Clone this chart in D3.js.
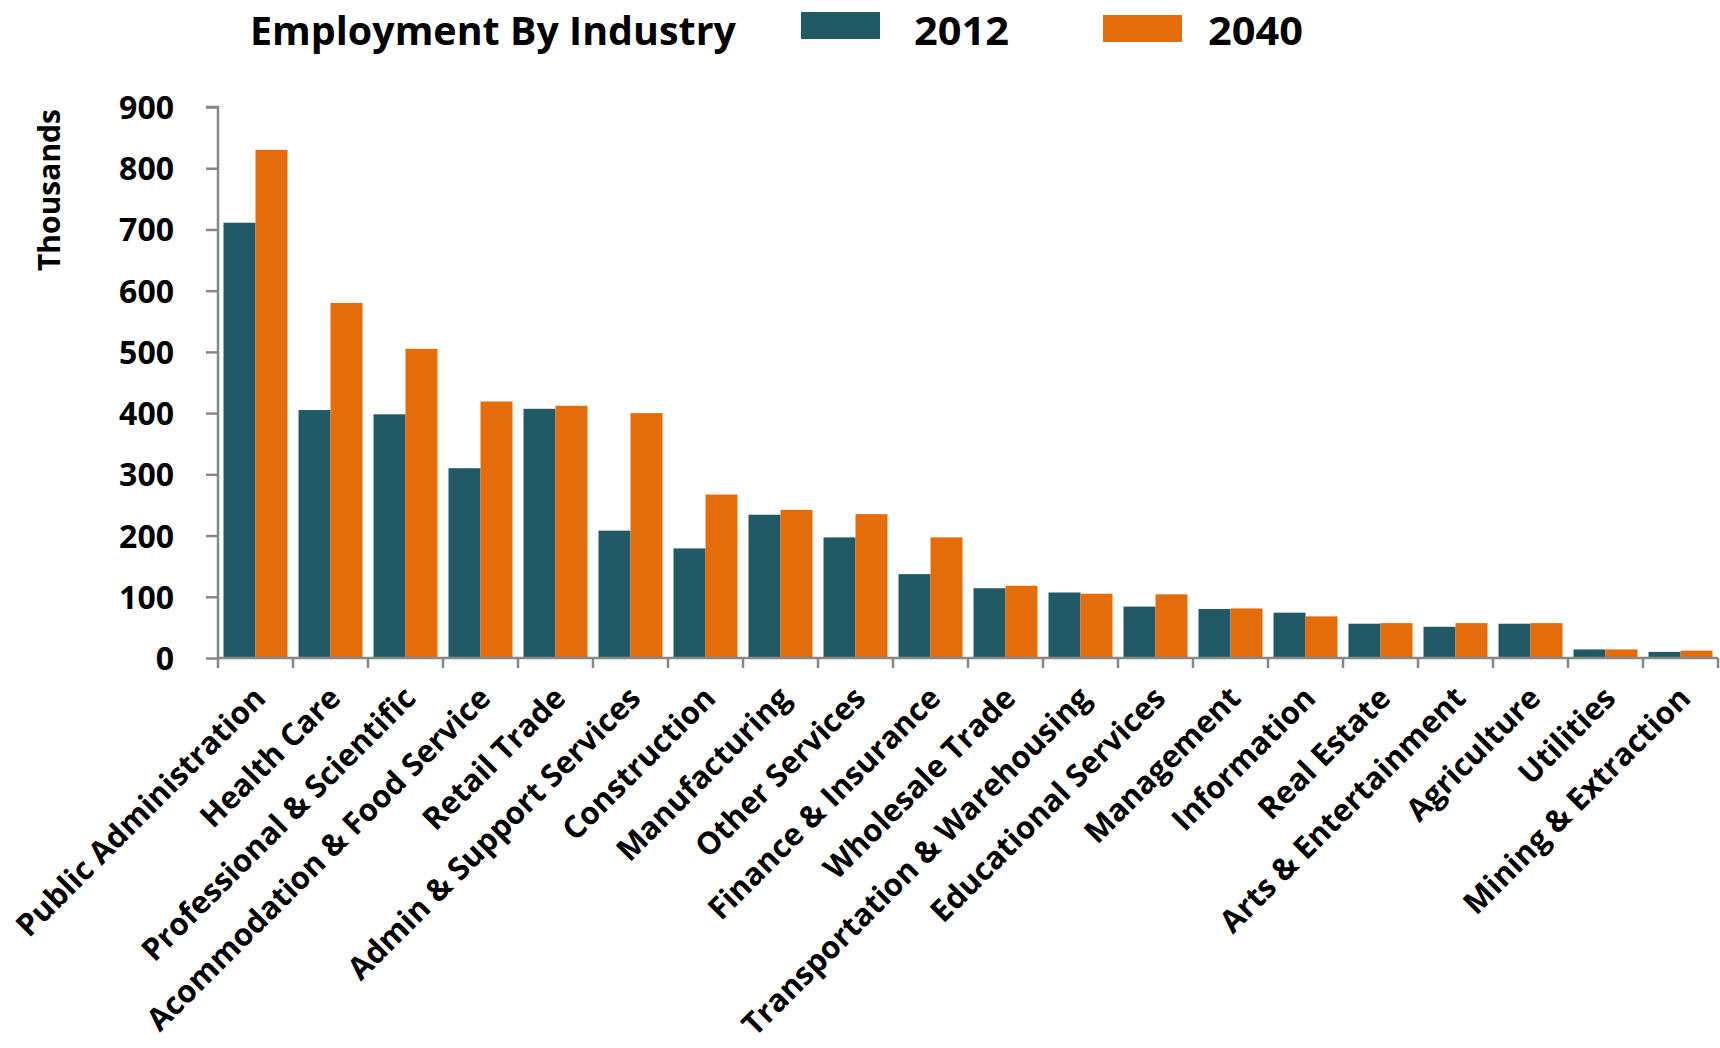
<!DOCTYPE html>
<html><head><meta charset="utf-8">
<script src="https://cdn.jsdelivr.net/npm/d3@7"></script>
<style>
body{margin:0;background:#fff}
svg text{font-family:"Open Sans",sans-serif;font-weight:700;fill:#000}
</style>
</head><body>
<svg id="chart" width="1720" height="1048"></svg>
<script>
const categories = ["Public Administration","Health Care","Professional & Scientific","Acommodation & Food Service","Retail Trade","Admin & Support Services","Construction","Manufacturing","Other Services","Finance & Insurance","Wholesale Trade","Transportation & Warehousing","Educational Services","Management","Information","Real Estate","Arts & Entertainment","Agriculture","Utilities","Mining & Extraction"];
const seriesNames = ["2012","2040"];
const values2012 = [711,405,398,310,407,208,179,234,197,137,114,107,84,80,74,56,51,56,14,10];
const values2040 = [830,580,505,419,412,400,267,242,235,197,118,105,104,81,68,57,57,57,14,12];
const yTicks = [0,100,200,300,400,500,600,700,800,900];
const titleText = "Employment By Industry";
const yTitleText = "Thousands";
const colors = ["#215967","#E46C0A"];

(function(){
const svg = d3.select("#chart");
const pl = 218, pr = 1718, pt = 107, pb = 658;
const axisColor = "#878787";

const x = d3.scaleBand().domain(categories).range([pl, pr]).paddingInner(0.147).paddingOuter(0.0735);
const xs = d3.scaleBand().domain(seriesNames).range([0, x.bandwidth()]);
const y = d3.scaleLinear().domain([0, 900]).range([pb, pt]);

const data = categories.map((c, i) => ({cat: c, vals: [values2012[i], values2040[i]]}));

const g = svg.append("g");
data.forEach(d => {
  g.selectAll(null).data(d.vals.map((v, k) => ({k, v}))).enter().append("rect")
    .attr("x", e => x(d.cat) + xs(seriesNames[e.k]))
    .attr("width", xs.bandwidth())
    .attr("y", e => y(e.v))
    .attr("height", e => y(0) - y(e.v))
    .attr("fill", e => colors[e.k]);
});

const yAxis = svg.append("g").attr("transform", `translate(${pl},0)`)
  .call(d3.axisLeft(y).tickValues(yTicks).tickSize(12).tickPadding(32).tickFormat(d3.format("d")));
yAxis.select(".domain").attr("stroke", axisColor).attr("stroke-width", 2.5).attr("d", `M-12,${pt}H0V${pb}`);
yAxis.selectAll(".tick line").attr("stroke", axisColor).attr("stroke-width", 2.5);
yAxis.selectAll(".tick text").style("font-size", "32px").attr("dy", "0.36em");

const step = x.step();
const bounds = d3.range(categories.length + 1).map(i => pl + i * step);
const xAxis = svg.append("g");
xAxis.append("line").attr("x1", pl).attr("x2", pr).attr("y1", pb).attr("y2", pb)
  .attr("stroke", axisColor).attr("stroke-width", 2.5);
xAxis.selectAll(null).data(bounds).enter().append("line")
  .attr("x1", d => d).attr("x2", d => d).attr("y1", pb).attr("y2", pb + 10)
  .attr("stroke", axisColor).attr("stroke-width", 2.5);

svg.append("g").selectAll("text").data(categories).enter().append("text")
  .attr("transform", d => `translate(${x(d) + x.bandwidth() / 2 + 12},${pb + 42}) rotate(-45)`)
  .attr("text-anchor", "end")
  .style("font-size", "31px")
  .text(d => d);

svg.append("text").attr("transform", `translate(60,190) rotate(-90)`)
  .attr("text-anchor", "middle").style("font-size", "30px").text(yTitleText);

svg.append("text").attr("x", 250).attr("y", 45).style("font-size", "40px")
  .attr("textLength", 486).attr("lengthAdjust", "spacingAndGlyphs").text(titleText);
const legendX = [801, 1103];
const legendTextX = [914, 1208];
const leg = svg.append("g");
seriesNames.forEach((s, k) => {
  leg.append("rect").attr("x", legendX[k]).attr("y", 12 + k * 3).attr("width", 79).attr("height", 27).attr("fill", colors[k]);
  leg.append("text").attr("x", legendTextX[k]).attr("y", 45).style("font-size", "40px")
    .attr("textLength", 95).attr("lengthAdjust", "spacingAndGlyphs").text(s);
});
})();
</script>
</body></html>
